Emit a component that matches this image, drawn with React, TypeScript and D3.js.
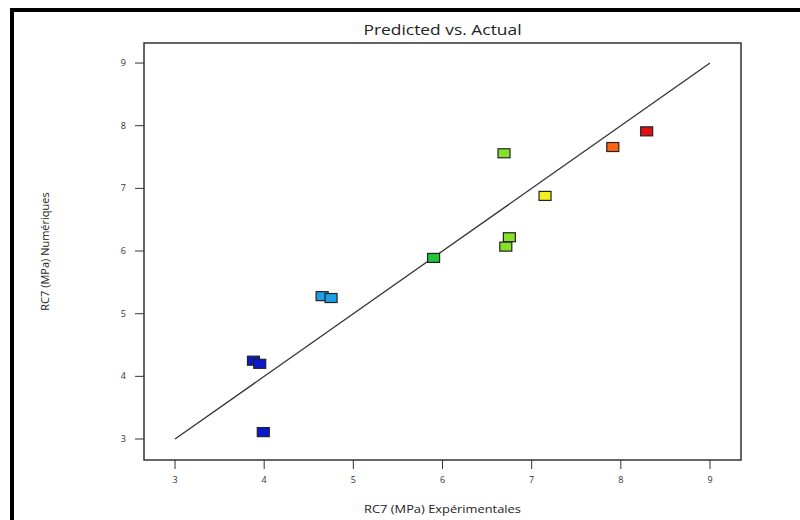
import React from "react";
import * as d3 from "d3";

const actual = [3.99, 3.88, 3.95, 4.65, 4.75, 5.9, 6.69, 6.75, 6.71, 7.15, 7.91, 8.29];
const predicted = [3.11, 4.25, 4.2, 5.28, 5.25, 5.89, 7.56, 6.22, 6.07, 6.88, 7.66, 7.91];
const pointColors = ["#0a18d0", "#0a18c8", "#0a18d0", "#1ea0e8", "#1ea0e8", "#22c43a", "#86e02a", "#86e02a", "#86e02a", "#f2f020", "#ff6410", "#e01010"];
const ticks = [3, 4, 5, 6, 7, 8, 9];
const lineEnds = [3, 9];

export default function App() {
  const W = 800, H = 520;
  const left = 144, right = 741, top = 43, bottom = 460;
  const x = d3.scaleLinear().domain([2.652, 9.348]).range([left, right]);
  const y = d3.scaleLinear().domain([2.665, 9.32]).range([bottom, top]);
  const font = "'Open Sans', 'Noto Sans', sans-serif";
  const line = d3.line<number>().x(d => x(d)).y(d => y(d));
  const cx = (left + right) / 2;
  return (
    <svg width={W} height={H} style={{ position: "absolute", left: 0, top: 0, background: "#fff" }}>
      <rect x={0} y={0} width={W} height={H} fill="#fff" />
      <rect x={10} y={8} width={790} height={4} fill="#000" />
      <rect x={10} y={8} width={4} height={512} fill="#000" />
      <text transform={`translate(${cx}, 35) scale(1.2, 1)`} textAnchor="middle" fontFamily={font} fontSize={14.5} fill="#222">Predicted vs. Actual</text>
      <rect x={left} y={top} width={right - left} height={bottom - top} fill="none" stroke="#333" strokeWidth={1.5} />
      {ticks.map(t => (
        <g key={"x" + t}>
          <line x1={x(t)} x2={x(t)} y1={bottom} y2={bottom + 9} stroke="#333" strokeWidth={1} />
          <text x={x(t)} y={bottom + 23} textAnchor="middle" fontFamily={font} fontSize={9} fill="#333">{t}</text>
        </g>
      ))}
      {ticks.map(t => (
        <g key={"y" + t}>
          <line x1={left - 9} x2={left} y1={y(t)} y2={y(t)} stroke="#333" strokeWidth={1} />
          <text x={left - 18} y={y(t) + 3} textAnchor="end" fontFamily={font} fontSize={9} fill="#333">{t}</text>
        </g>
      ))}
      <text transform={`translate(${cx}, 513) scale(1.12, 1)`} textAnchor="middle" fontFamily={font} fontSize={11.5} fill="#222">RC7 (MPa) Expérimentales</text>
      <text transform={`translate(49, ${(top + bottom) / 2}) rotate(-90)`} textAnchor="middle" fontFamily={font} fontSize={11} fill="#222">RC7 (MPa) Numériques</text>
      <path d={line(lineEnds) || ""} fill="none" stroke="#333" strokeWidth={1.3} />
      {actual.map((a, i) => (
        <rect key={i} x={x(a) - 6} y={y(predicted[i]) - 4.5} width={12} height={9} fill={pointColors[i]} stroke="#222" strokeWidth={1.2} />
      ))}
    </svg>
  );
}
